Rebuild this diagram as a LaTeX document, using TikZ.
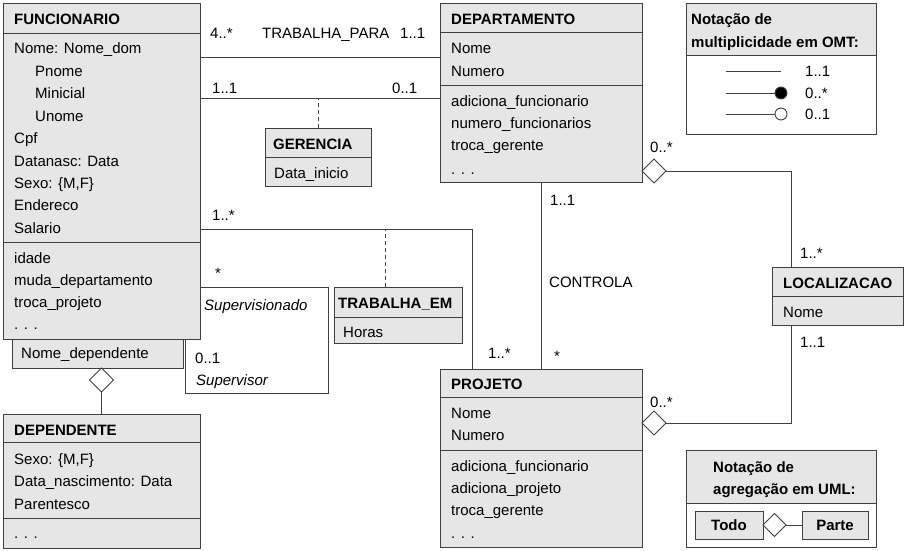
\documentclass[tikz,border=0pt]{standalone}
\usepackage{fontspec}
\setmainfont{Liberation Sans}
\usetikzlibrary{shapes.geometric}
\definecolor{umlfill}{HTML}{E6E6E6}
\definecolor{umlline}{HTML}{404040}
\newcommand{\umlsize}{\fontsize{15}{18}\selectfont}
\tikzset{
  classbox/.style={draw=umlline, fill=umlfill, line width=0.9pt, anchor=north west, inner sep=0pt, outer sep=0pt},
  divider/.style={draw=umlline, line width=0.9pt},
  ttl/.style={anchor=base west, inner sep=0pt, font=\umlsize\bfseries},
  attr/.style={anchor=base west, inner sep=0pt},
  role/.style={anchor=base west, inner sep=0pt, font=\umlsize\itshape},
  conn/.style={draw=umlline, line width=0.9pt},
  assocdash/.style={conn, dash pattern=on 4pt off 3pt},
  agg/.style={diamond, draw=umlline, fill=white, line width=0.9pt, minimum width=24pt, minimum height=24pt, inner sep=0pt, outer sep=0pt},
  multdot/.style={circle, draw=umlline, line width=0.9pt, minimum size=12pt, inner sep=0pt, outer sep=0pt}
}
\begin{document}
\begin{tikzpicture}[x=1pt, y=-1pt, font=\umlsize]
    \useasboundingbox (0,0) rectangle (907,551);
    % FUNCIONARIO
    \node[classbox, minimum width=197pt, minimum height=336pt] (func) at (3,3) {};
    \draw[divider] (func.west |- 0,33) -- (func.east |- 0,33);
    \draw[divider] (func.west |- 0,242) -- (func.east |- 0,242);
    \node[ttl] (funcT) at (14,25) {FUNCIONARIO};
    \foreach \y/\t [count=\i] in {
        54/Nome: Nome\_dom,
        76.4/\hspace{21pt}Pnome,
        98.8/\hspace{21pt}Minicial,
        121.2/\hspace{21pt}Unome,
        143.6/Cpf,
        166/Datanasc: Data,
        188.4/{Sexo: \{M,F\}},
        210.8/Endereco,
        233.2/Salario,
        263/idade,
        285.4/muda\_departamento,
        307.8/troca\_projeto,
        329/. . .
    } {
        \node[attr] (funcA\i) at (14,\y) {\t};
    }
    % qualifier
    \node[classbox, minimum width=171pt, minimum height=29pt] (qual) at (12,339) {};
    \node[attr] (qualA) at (21,358) {Nome\_dependente};

    % DEPENDENTE
    \node[classbox, minimum width=197pt, minimum height=134pt] (dep) at (3,414) {};
    \draw[divider] (dep.west |- 0,442) -- (dep.east |- 0,442);
    \draw[divider] (dep.west |- 0,518) -- (dep.east |- 0,518);
    \node[ttl] (depT) at (14,435) {DEPENDENTE};
    \foreach \y/\t [count=\i] in {
        464/{Sexo: \{M,F\}},
        486.5/Data\_nascimento: Data,
        509/Parentesco,
        538/. . .
    } {
        \node[attr] (depA\i) at (14,\y) {\t};
    }

    % DEPARTAMENTO
    \node[classbox, minimum width=202pt, minimum height=179pt] (dept) at (440,3) {};
    \draw[divider] (dept.west |- 0,32) -- (dept.east |- 0,32);
    \draw[divider] (dept.west |- 0,85) -- (dept.east |- 0,85);
    \node[ttl] (deptT) at (451,25) {DEPARTAMENTO};
    \foreach \y/\t [count=\i] in {
        54/Nome,
        76.4/Numero,
        106/adiciona\_funcionario,
        128.4/numero\_funcionarios,
        150.8/troca\_gerente,
        174/. . .
    } {
        \node[attr] (deptA\i) at (451,\y) {\t};
    }

    % PROJETO
    \node[classbox, minimum width=202pt, minimum height=178pt] (proj) at (440,369) {};
    \draw[divider] (proj.west |- 0,397) -- (proj.east |- 0,397);
    \draw[divider] (proj.west |- 0,450) -- (proj.east |- 0,450);
    \node[ttl] (projT) at (451,389) {PROJETO};
    \foreach \y/\t [count=\i] in {
        418/Nome,
        440.4/Numero,
        471/adiciona\_funcionario,
        493.4/adiciona\_projeto,
        515.8/troca\_gerente,
        538/. . .
    } {
        \node[attr] (projA\i) at (451,\y) {\t};
    }

    % GERENCIA, TRABALHA_EM, LOCALIZACAO
    \node[classbox, minimum width=106pt, minimum height=58pt] (ger) at (265,128) {};
    \draw[divider] (ger.west |- 0,157) -- (ger.east |- 0,157);
    \node[ttl] (gerT) at (273,149) {GERENCIA};
    \node[attr] (gerA) at (274,178) {Data\_inicio};

    \node[classbox, minimum width=128pt, minimum height=56pt] (trem) at (334,287) {};
    \draw[divider] (trem.west |- 0,317) -- (trem.east |- 0,317);
    \node[ttl] (tremT) at (338,308) {TRABALHA\_EM};
    \node[attr] (tremA) at (343,337) {Horas};

    \node[classbox, minimum width=131pt, minimum height=58pt] (loc) at (772,267) {};
    \draw[divider] (loc.west |- 0,296) -- (loc.east |- 0,296);
    \node[ttl] (locT) at (783,288) {LOCALIZACAO};
    \node[attr] (locA) at (783,317) {Nome};

    % associations
    \coordinate (tpY) at (0,57);
    \draw[conn] (func.east |- tpY) -- (dept.west |- tpY);
    \node[attr] (tpM1) at (210,38) {4..*};
    \node[attr] (tpN) at (262,38) {TRABALHA\_PARA};
    \node[attr] (tpM2) at (400,38) {1..1};

    \coordinate (gerY) at (0,98);
    \draw[conn] (func.east |- gerY) -- (dept.west |- gerY);
    \draw[assocdash] (ger.north) -- (ger.north |- gerY);
    \node[attr] (gerM1) at (212,93) {1..1};
    \node[attr] (gerM2) at (392,93) {0..1};

    \coordinate (teY) at (0,229);
    \coordinate (teX) at (472,0);
    \coordinate (teD) at (385,0);
    \draw[conn] (func.east |- teY) -| (teX |- proj.north);
    \draw[assocdash] (trem.north -| teD) -- (teD |- teY);
    \node[attr] (teM1) at (212,220) {1..*};
    \node[attr] (teM2) at (488,358) {1..*};

    % supervision
    \coordinate (supY) at (0,287);
    \coordinate (supR) at (328,393);
    \coordinate (supX) at (185,0);
    \draw[conn] (func.east |- supY) -| (supR) -| (supX |- func.south);
    \node[attr] (supM1) at (215,278) {*};
    \node[role] (supN1) at (204,310) {Supervisionado};
    \node[attr] (supM2) at (195,363) {0..1};
    \node[role] (supN2) at (196,385) {Supervisor};

    % CONTROLA
    \draw[conn] (dept.south) -- (proj.north);
    \node[attr] (ctM1) at (550,205) {1..1};
    \node[attr] (ctN) at (549,287) {CONTROLA};
    \node[attr] (ctM2) at (554,361) {*};

    % aggregations
    \node[agg, anchor=west] (deptAgg) at (dept.east |- 0,171) {};
    \node[agg, anchor=west] (projAgg) at (proj.east |- 0,423) {};
    \coordinate (locX) at (791,0);
    \draw[conn] (deptAgg.east) -| (locX |- loc.north);
    \draw[conn] (projAgg.east) -| (locX |- loc.south);
    \node[attr] (deptAggM) at (650,152) {0..*};
    \node[attr] (projAggM) at (650,407) {0..*};
    \node[attr] (locM1) at (800,258) {1..*};
    \node[attr] (locM2) at (800,347) {1..1};

    \node[agg, anchor=north] (depAgg) at (dep.north |- qual.south) {};
    \draw[conn] (depAgg.south) -- (dep.north);

    % OMT legend
    \node[classbox, minimum width=190pt, minimum height=52pt] (omtH) at (686,3) {};
    \node[classbox, fill=white, minimum width=190pt, minimum height=79pt] (omtB) at (omtH.south west) {};
    \node[ttl] (omtT1) at (691,25) {Notação de};
    \node[ttl] (omtT2) at (691,48) {multiplicidade em OMT:};
    \coordinate (omtL1) at (726,71);
    \coordinate (omtR1) at (781,71);
    \coordinate (omtL2) at (726,93);
    \coordinate (omtL3) at (726,114);
    \node[multdot, fill=black] (omtC2) at (781,93) {};
    \node[multdot, fill=white] (omtC3) at (781,114) {};
    \draw[conn] (omtL1) -- (omtR1);
    \draw[conn] (omtL2) -- (omtC2.west);
    \draw[conn] (omtL3) -- (omtC3.west);
    \node[attr] (omtM1) at (805,76) {1..1};
    \node[attr] (omtM2) at (805,98) {0..*};
    \node[attr] (omtM3) at (805,119) {0..1};

    % UML legend
    \node[classbox, minimum width=190pt, minimum height=53pt] (umlH) at (686,450) {};
    \node[classbox, fill=white, minimum width=190pt, minimum height=44pt] (umlB) at (umlH.south west) {};
    \node[ttl] (umlT1) at (713,472) {Notação de};
    \node[ttl] (umlT2) at (713,494) {agregação em UML:};
    \node[classbox, font=\umlsize\bfseries, minimum width=68pt, minimum height=28pt] (todo) at (695,511) {Todo};
    \node[agg, anchor=west, minimum width=23pt, minimum height=23pt] (umlAgg) at (todo.east) {};
    \node[classbox, font=\umlsize\bfseries, minimum width=66pt, minimum height=28pt] (parte) at (802,511) {Parte};
    \draw[conn] (umlAgg.east) -- (parte.west);
\end{tikzpicture}
\end{document}
